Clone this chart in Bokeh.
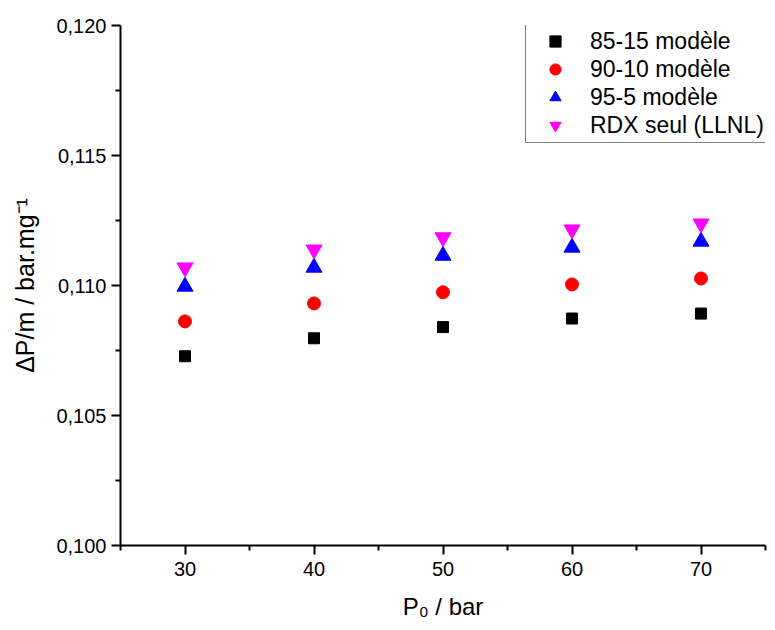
from bokeh.plotting import figure
from bokeh.models import Range1d, FixedTicker, CustomJSTickFormatter, Legend, LegendItem
from bokeh.embed import file_html
from bokeh.resources import INLINE

# ---- data ----
pressure = [30, 40, 50, 60, 70]
dp_85_15 = [0.10728, 0.10797, 0.10840, 0.10873, 0.10892]
dp_90_10 = [0.10862, 0.10931, 0.10974, 0.11004, 0.11027]
dp_95_5 = [0.10996, 0.11069, 0.11115, 0.11146, 0.11169]
dp_rdx = [0.11069, 0.11138, 0.11185, 0.11215, 0.11238]

series_labels = ["85-15 modèle", "90-10 modèle", "95-5 modèle", "RDX seul (LLNL)"]
x_ticks = [30, 40, 50, 60, 70]
x_minor = [25, 35, 45, 55, 65, 75]
y_ticks = [0.100, 0.105, 0.110, 0.115, 0.120]
y_minor = [0.1025, 0.1075, 0.1125, 0.1175]
x_title = "P₀ / bar"
y_title = "ΔP/m / bar.mg⁻¹"

FONT = "Liberation Sans"

p = figure(width=775, height=630, output_backend="svg", toolbar_location=None,
           x_range=Range1d(25, 75), y_range=Range1d(0.100, 0.120),
           min_border_left=120, min_border_right=10, min_border_top=25,
           min_border_bottom=85)
p.outline_line_color = None
p.grid.visible = False
p.background_fill_color = "white"
p.border_fill_color = "white"

for ax in (p.xaxis[0], p.yaxis[0]):
    ax.axis_line_width = 2
    ax.axis_line_color = "black"
    ax.major_tick_line_width = 2
    ax.minor_tick_line_width = 2
    ax.major_tick_line_color = "black"
    ax.minor_tick_line_color = "black"
    ax.major_tick_in = 0
    ax.major_tick_out = 9
    ax.minor_tick_in = 0
    ax.minor_tick_out = 5
    ax.major_label_text_font = FONT
    ax.major_label_text_font_size = "20px"
    ax.major_label_text_color = "black"
    ax.axis_label_text_font = FONT
    ax.axis_label_text_font_style = "normal"
    ax.axis_label_text_color = "black"

p.xaxis[0].ticker = FixedTicker(ticks=x_ticks, minor_ticks=x_minor)
p.yaxis[0].ticker = FixedTicker(ticks=y_ticks, minor_ticks=y_minor)
p.yaxis[0].formatter = CustomJSTickFormatter(code="return tick.toFixed(3).replace('.', ',');")
p.xaxis[0].major_label_standoff = 7
p.yaxis[0].major_label_standoff = 5

p.xaxis[0].axis_label = x_title
p.xaxis[0].axis_label_text_font_size = "24px"
p.xaxis[0].axis_label_standoff = 14
p.yaxis[0].axis_label = y_title
p.yaxis[0].axis_label_text_font_size = "25px"
p.yaxis[0].axis_label_standoff = 14

r1 = p.scatter(pressure, dp_85_15, marker="square", size=11, color="black")
r2 = p.scatter(pressure, dp_90_10, marker="circle", size=13, color="red")
r3 = p.scatter(pressure, dp_95_5, marker="triangle", size=16, color="blue")
r4 = p.scatter(pressure, dp_rdx, marker="inverted_triangle", size=16, color="magenta")

legend = Legend(items=[LegendItem(label=series_labels[i], renderers=[r])
                       for i, r in enumerate([r1, r2, r3, r4])],
                location=(405, 402))
legend.label_text_font = FONT
legend.label_text_font_size = "23px"
legend.label_text_color = "black"
legend.label_height = 28
legend.glyph_height = 28
legend.glyph_width = 52
legend.label_standoff = 9
legend.spacing = 0
legend.padding = 3
legend.margin = 0
legend.border_line_color = "black"
legend.border_line_width = 1
legend.background_fill_alpha = 1
p.add_layout(legend)

open("out.html", "w").write(file_html(p, INLINE))
